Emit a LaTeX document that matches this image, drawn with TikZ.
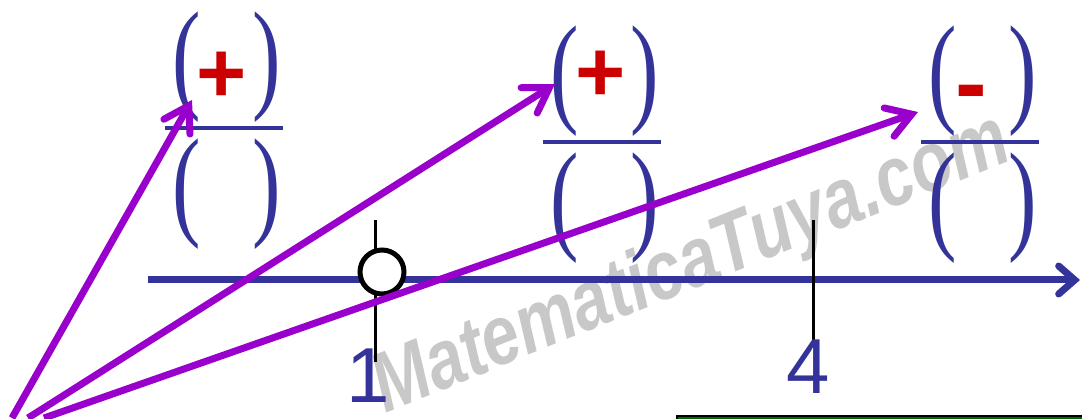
\documentclass[tikz,border=0pt]{standalone}
\usepackage{fontspec}
\setmainfont{Liberation Serif}
\newfontfamily\arialfont{Liberation Sans}
\usetikzlibrary{arrows.meta}
\definecolor{axisblue}{HTML}{333399}
\definecolor{arrowviolet}{HTML}{9900CC}
\definecolor{signred}{HTML}{CC0000}
\definecolor{markgray}{HTML}{C8C8C8}
\definecolor{boxgreen}{HTML}{006600}

\begin{document}
\begin{tikzpicture}[x=1pt,y=-1pt,
  pr/.style={inner sep=0pt,text=axisblue,font=\fontsize{122}{122}\selectfont},
  sgn/.style={inner sep=0pt,text=signred,font=\arialfont\bfseries\fontsize{86}{86}\selectfont},
  num/.style={inner sep=0pt,text=axisblue,font=\arialfont\fontsize{78}{78}\selectfont},
  fracbar/.style={axisblue,line width=4pt},
  tickline/.style={black,line width=3pt},
  guess/.style={arrowviolet,line width=7pt,-{Straight Barb[length=24pt,width=30pt,line cap=round]}}]
  \useasboundingbox (0,0) rectangle (1082,419);
  % watermark
  \node[text=markgray,rotate=22,inner sep=0pt,font=\arialfont\bfseries\itshape\fontsize{84}{84}\selectfont]
    (mark) at (692,266) {\scalebox{0.8}[1]{MatematicaTuya.com}};
  \fill[boxgreen,draw=black,line width=2pt] (677,416) rectangle (1095,440);
  % number line
  \coordinate (lo) at (148,280);
  \coordinate (hi) at (1080,280);
  \draw[axisblue,line width=7pt,-{Straight Barb[length=16pt,width=28pt,line cap=round]}] (lo) -- (hi);
  \draw[tickline] (375,220) -- (375,362);
  \draw[tickline] (813,220) -- (813,345);
  \node[circle,draw=black,fill=white,line width=5pt,minimum size=44pt,inner sep=0pt] (hole) at (382,272) {};
  \node[num] (one) at (368,376) {1};
  \node[num] (four) at (808,367) {4};
  % sign fractions
  \foreach \cx/\cy/\nm in {227/67/a,605/81/b,983/81/c} {
    \node[pr] (tl\nm) at (\cx-40,\cy) {\scalebox{0.7}[1]{(}};
    \node[pr] (tr\nm) at (\cx+40,\cy) {\scalebox{0.7}[1]{)}};
    \node[pr] (bl\nm) at (\cx-40,\cy+127) {\scalebox{0.7}[1]{(}};
    \node[pr] (br\nm) at (\cx+40,\cy+127) {\scalebox{0.7}[1]{)}};
    \draw[fracbar] (\cx-62,\cy+61) -- (\cx+56,\cy+61);
  }
  \node[sgn] (pa) at (222,77) {+};
  \node[sgn] (pb) at (601,76) {+};
  \node[sgn,anchor=base,font=\arialfont\bfseries\fontsize{95}{95}\selectfont] (mc) at (971,116) {-};
  % arrows
  \coordinate (s1) at (12,418);
  \coordinate (s2) at (28,418);
  \coordinate (s3) at (44,418);
  \coordinate (t1) at (192,100);
  \coordinate (t2) at (555,84);
  \coordinate (t3) at (918,112);
  \draw[guess] (s1) -- (t1);
  \draw[guess] (s2) -- (t2);
  \draw[guess] (s3) -- (t3);
\end{tikzpicture}
\end{document}
